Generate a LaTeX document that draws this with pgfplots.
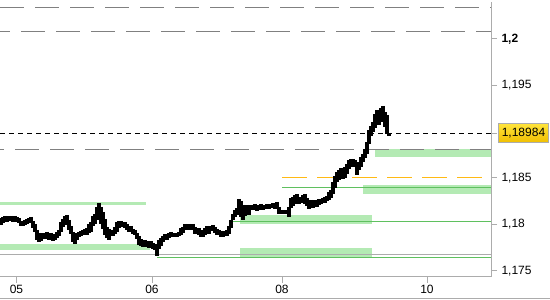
\documentclass[border=0pt]{standalone}
\usepackage{fontspec}
\setmainfont{Liberation Sans}
\usepackage{pgfplots}
\pgfplotsset{compat=1.18}
\usepackage{pgfplotstable}
\usetikzlibrary{shadings}
\definecolor{lgreen}{RGB}{180,234,180}
\definecolor{mgreen}{RGB}{95,192,95}
\definecolor{dgray}{RGB}{128,128,128}
\definecolor{agray}{RGB}{172,172,172}
\definecolor{orng}{RGB}{255,186,20}
\pgfplotstableread{
x lo hi
1 1.17996 1.18071
3 1.18017 1.18082
5 1.18039 1.18093
7 1.18028 1.18082
9 1.18039 1.18093
11 1.18050 1.18093
13 1.18028 1.18082
15 1.18039 1.18093
17 1.18028 1.18082
19 1.18017 1.18071
21 1.17985 1.18039
23 1.17985 1.18028
25 1.17996 1.18050
27 1.18006 1.18060
29 1.18017 1.18071
31 1.18028 1.18082
33 1.17963 1.18039
35 1.17920 1.18006
37 1.17834 1.17942
39 1.17812 1.17909
41 1.17823 1.17899
43 1.17845 1.17909
45 1.17845 1.17899
47 1.17856 1.17920
49 1.17834 1.17899
51 1.17845 1.17909
53 1.17823 1.17899
55 1.17834 1.17888
57 1.17856 1.17920
59 1.17877 1.17942
61 1.17920 1.18028
63 1.17974 1.18060
65 1.17996 1.18093
67 1.18028 1.18103
69 1.17942 1.18050
71 1.17899 1.17985
73 1.17812 1.17920
75 1.17791 1.17877
77 1.17834 1.17909
79 1.17866 1.17920
81 1.17877 1.17931
83 1.17888 1.17942
85 1.17899 1.17953
87 1.17888 1.17963
89 1.17909 1.18006
91 1.17920 1.18028
93 1.17985 1.18093
95 1.18006 1.18114
97 1.18050 1.18190
99 1.18093 1.18233
101 1.18006 1.18190
103 1.17953 1.18136
105 1.17888 1.18060
107 1.17856 1.17974
109 1.17834 1.17953
111 1.17888 1.17942
113 1.17877 1.17931
115 1.17899 1.17974
117 1.17920 1.18028
119 1.17963 1.18039
121 1.17974 1.18039
123 1.17985 1.18028
125 1.17963 1.18028
127 1.17942 1.18006
129 1.17920 1.17985
131 1.17931 1.17985
133 1.17899 1.17953
135 1.17888 1.17942
137 1.17845 1.17909
139 1.17780 1.17877
141 1.17769 1.17845
143 1.17759 1.17823
145 1.17769 1.17834
147 1.17759 1.17823
149 1.17748 1.17812
151 1.17759 1.17823
153 1.17737 1.17802
155 1.17726 1.17791
157 1.17662 1.17780
159 1.17737 1.17834
161 1.17769 1.17856
163 1.17812 1.17877
165 1.17834 1.17899
167 1.17834 1.17888
169 1.17856 1.17909
171 1.17866 1.17920
173 1.17866 1.17909
175 1.17866 1.17899
177 1.17866 1.17909
179 1.17877 1.17920
181 1.17888 1.17963
183 1.17909 1.17974
185 1.17942 1.18006
187 1.17942 1.17996
189 1.17953 1.18006
191 1.17942 1.17996
193 1.17963 1.18006
195 1.17899 1.17974
197 1.17899 1.17953
199 1.17888 1.17963
201 1.17866 1.17942
203 1.17866 1.17931
205 1.17888 1.17963
207 1.17920 1.17985
209 1.17899 1.17963
211 1.17931 1.17985
213 1.17931 1.17996
215 1.17909 1.17974
217 1.17888 1.17953
219 1.17888 1.17942
221 1.17866 1.17931
223 1.17866 1.17920
225 1.17877 1.17931
227 1.17877 1.17942
229 1.17899 1.17985
231 1.17963 1.18050
233 1.18050 1.18114
235 1.18082 1.18157
237 1.18103 1.18179
239 1.18114 1.18276
241 1.18082 1.18254
243 1.18050 1.18211
245 1.18093 1.18190
247 1.18114 1.18211
249 1.18103 1.18190
251 1.18157 1.18211
253 1.18157 1.18200
255 1.18168 1.18222
257 1.18147 1.18200
259 1.18157 1.18211
261 1.18179 1.18222
263 1.18157 1.18200
265 1.18168 1.18211
267 1.18168 1.18222
269 1.18168 1.18211
271 1.18179 1.18222
273 1.18190 1.18233
275 1.18168 1.18233
277 1.18190 1.18244
279 1.18114 1.18190
281 1.18114 1.18157
283 1.18125 1.18157
285 1.18114 1.18147
287 1.18114 1.18157
289 1.18082 1.18190
291 1.18179 1.18287
293 1.18200 1.18297
295 1.18244 1.18319
297 1.18222 1.18330
299 1.18222 1.18287
301 1.18233 1.18297
303 1.18244 1.18319
305 1.18222 1.18330
307 1.18200 1.18287
309 1.18168 1.18265
311 1.18190 1.18265
313 1.18179 1.18254
315 1.18200 1.18265
317 1.18190 1.18254
319 1.18211 1.18276
321 1.18222 1.18276
323 1.18233 1.18287
325 1.18233 1.18297
327 1.18254 1.18308
329 1.18265 1.18351
331 1.18287 1.18373
333 1.18330 1.18459
335 1.18394 1.18524
337 1.18459 1.18567
339 1.18481 1.18588
341 1.18502 1.18610
343 1.18491 1.18588
345 1.18502 1.18621
347 1.18545 1.18653
349 1.18599 1.18696
351 1.18621 1.18707
353 1.18631 1.18707
355 1.18621 1.18696
357 1.18534 1.18642
359 1.18588 1.18675
361 1.18621 1.18728
363 1.18675 1.18761
365 1.18718 1.18815
367 1.18761 1.18890
369 1.18869 1.19019
371 1.18955 1.19063
373 1.18998 1.19106
375 1.19041 1.19192
377 1.19084 1.19235
379 1.19073 1.19203
381 1.19106 1.19256
383 1.19127 1.19278
385 1.19052 1.19213
387 1.18976 1.19181
389 1.18955 1.18987
}\price
\begin{document}
\begin{tikzpicture}[x=1pt,y=1pt]
\useasboundingbox (0,0) rectangle (550,300);
\draw[agray, line width=1pt] (0,1) -- (550,1);
\begin{axis}[
  at={(0,25)}, anchor=south west,
  width=491pt, height=275pt, scale only axis,
  xmin=0, xmax=491, ymin=1.174353, ymax=1.203987,
  axis x line=bottom, axis y line=right,
  axis line style={agray, line width=1pt, -},
  tick style={agray, line width=1pt},
  tick align=outside, major tick length=6pt,
  xtick={16.5,152,282,427}, xticklabels={05,06,08,10},
  ytick={1.175,1.18,1.185,1.195,1.2},
  yticklabels={{1,175},{1,18},{1,185},{1,195},{\textbf{1,2}}},
  extra y ticks={1.18984}, extra y tick labels={},
  ticklabel style={font=\fontsize{12}{14}\selectfont, text=black},
  yticklabel style={anchor=west, xshift=1pt},
  xticklabel style={yshift=1.5pt},
  clip=false,
]
% green zones
\addplot[draw=none, fill=lgreen] coordinates {(0,1.18214)(145.7,1.18214)(145.7,1.18243)(0,1.18243)} -- cycle;
\addplot[draw=none, fill=lgreen] coordinates {(0,1.17728)(150,1.17728)(150,1.17790)(0,1.17790)} -- cycle;
\addplot[draw=none, fill=lgreen] coordinates {(240,1.17999)(372,1.17999)(372,1.18106)(240,1.18106)} -- cycle;
\addplot[draw=none, fill=lgreen] coordinates {(240,1.17647)(372,1.17647)(372,1.17747)(240,1.17747)} -- cycle;
\addplot[draw=none, fill=lgreen] coordinates {(375,1.18722)(491,1.18722)(491,1.18815)(375,1.18815)} -- cycle;
\addplot[draw=none, fill=lgreen] coordinates {(363,1.18332)(491,1.18332)(491,1.18427)(363,1.18427)} -- cycle;
% level lines
\addplot[agray, line width=1pt] coordinates {(0,1.17680)(491,1.17680)};
\addplot[mgreen, line width=1pt] coordinates {(157,1.17647)(491,1.17647)};
\addplot[mgreen, line width=1pt] coordinates {(229,1.18036)(491,1.18036)};
\addplot[mgreen, line width=1pt] coordinates {(282,1.18402)(491,1.18402)};
\addplot[orng, line width=1.2pt, dash pattern=on 25pt off 10pt] coordinates {(282,1.18502)(482,1.18502)};
\addplot[dgray, line width=1pt, dash pattern=on 24pt off 11pt] coordinates {(0,1.20334)(491,1.20334)};
\addplot[dgray, line width=1pt, dash pattern=on 24pt off 11pt, dash phase=14pt] coordinates {(0,1.20083)(491,1.20083)};
\addplot[dgray, line width=1pt, dash pattern=on 24pt off 11pt, dash phase=20pt] coordinates {(0,1.18811)(491,1.18811)};
\addplot[black, line width=1pt, dash pattern=on 5pt off 4pt] coordinates {(0,1.18984)(491,1.18984)};
% price bars
\addplot[draw=none, mark=none,
  error bars/.cd, y dir=minus, y explicit, error mark=none,
  error bar style={black, line width=3.2pt}]
  table[x=x, y=hi, y error minus expr=\thisrow{hi}-\thisrow{lo}] {\price};
\node[draw=agray, line width=1pt, top color={rgb,255:red,255;green,228;blue,60}, bottom color={rgb,255:red,240;green,190;blue,0},
  minimum width=50pt, minimum height=19.6pt, inner sep=0pt, anchor=west,
  font=\fontsize{12}{14}\selectfont] at (axis cs:491,1.18984) [xshift=7pt] {1,18984};
\end{axis}
\end{tikzpicture}
\end{document}
